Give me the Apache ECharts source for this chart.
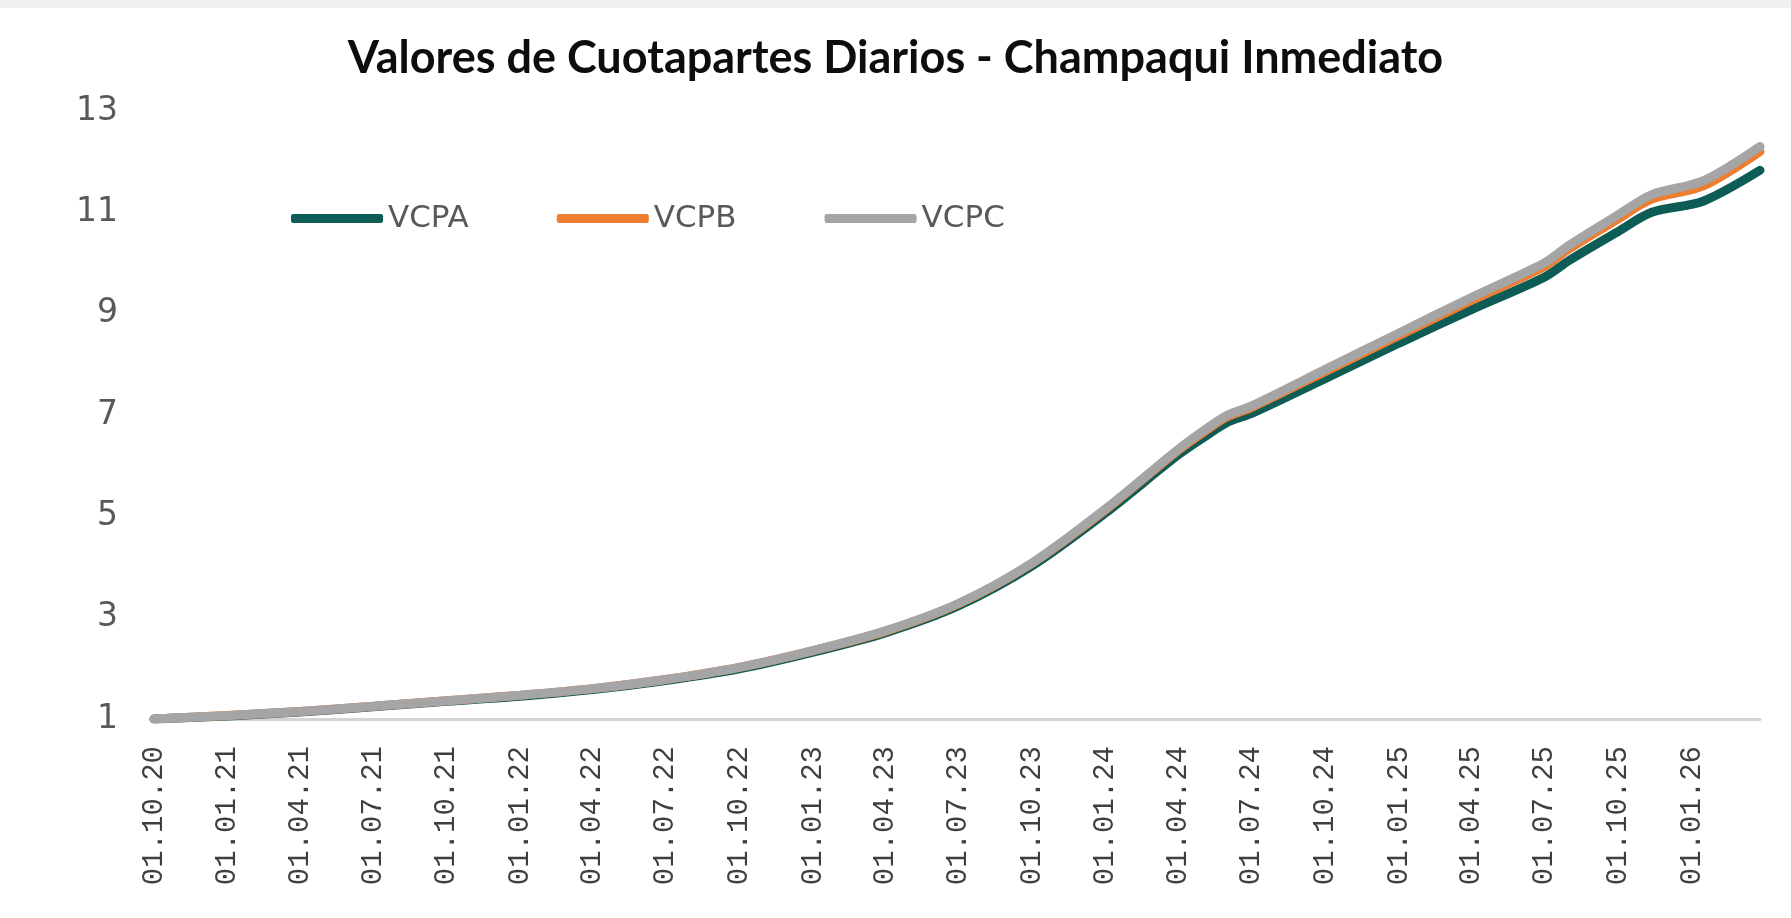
<!DOCTYPE html>
<html>
<head>
<meta charset="utf-8">
<script src="https://cdn.jsdelivr.net/npm/echarts@6/dist/echarts.min.js"></script>
<style>
  html, body { margin: 0; padding: 0; background: #fff; }
  #chart { width: 1791px; height: 918px; }
</style>
</head>
<body>
<div id="chart"></div>
<script>
// fechas de lectura y valores de cuotaparte
const dates = ['2020-10-01', '2021-01-01', '2021-04-01', '2021-07-01', '2021-10-01', '2022-01-01',
  '2022-04-01', '2022-07-01', '2022-10-01', '2023-01-01', '2023-04-01', '2023-07-01', '2023-10-01',
  '2024-01-01', '2024-04-01', '2024-05-10', '2024-06-01', '2024-07-01', '2024-10-01', '2025-01-01',
  '2025-04-01', '2025-07-01', '2025-08-01', '2025-10-01', '2025-11-12', '2026-01-15', '2026-03-27']
const vcpa = [1.00, 1.06, 1.14, 1.24, 1.35, 1.45, 1.58, 1.76, 1.99, 2.32, 2.70, 3.23, 4.02,
  5.07, 6.22, 6.64, 6.86, 7.03, 7.72, 8.42, 9.08, 9.72, 10.05, 10.62, 11.00, 11.22, 11.83]
const vcpb = [1.00, 1.07, 1.15, 1.25, 1.36, 1.47, 1.60, 1.78, 2.02, 2.35, 2.73, 3.27, 4.07,
  5.13, 6.31, 6.75, 6.97, 7.15, 7.86, 8.57, 9.26, 9.93, 10.28, 10.87, 11.26, 11.52, 12.20]
const vcpc = [1.00, 1.07, 1.15, 1.25, 1.36, 1.47, 1.60, 1.78, 2.02, 2.35, 2.74, 3.28, 4.08,
  5.15, 6.33, 6.78, 7.00, 7.18, 7.90, 8.62, 9.32, 10.00, 10.35, 10.95, 11.35, 11.62, 12.30]

// etiquetas del eje x (inicio de cada trimestre)
const quarterLabels = ['01.10.20', '01.01.21', '01.04.21', '01.07.21', '01.10.21', '01.01.22',
  '01.04.22', '01.07.22', '01.10.22', '01.01.23', '01.04.23', '01.07.23', '01.10.23', '01.01.24',
  '01.04.24', '01.07.24', '01.10.24', '01.01.25', '01.04.25', '01.07.25', '01.10.25', '01.01.26']

const seriesNames = ['VCPA', 'VCPB', 'VCPC']
const colors = ['#0d5c55', '#ed7d31', '#a5a5a5']

// el eje x es de valores: dias desde el 01.10.20
const DAY = 24 * 3600 * 1000
const t0 = Date.UTC(2020, 9, 1)
const toDay = (s) => {
  const [y, m, d] = s.split('-').map(Number)
  return Math.round((Date.UTC(y, m - 1, d) - t0) / DAY)
}
const labelToDay = (s) => {
  const [d, m, y] = s.split('.').map(Number)
  return Math.round((Date.UTC(2000 + y, m - 1, d) - t0) / DAY)
}
const pad = (n) => (n < 10 ? '0' : '') + n
const fmt = (v) => {
  const d = new Date(t0 + v * DAY)
  return pad(d.getUTCDate()) + '.' + pad(d.getUTCMonth() + 1) + '.' + String(d.getUTCFullYear()).slice(2)
}

const tickValues = quarterLabels.map(labelToDay)
const pairs = (vals) => dates.map((d, i) => [toDay(d), vals[i]])

const chart = echarts.init(document.getElementById('chart'))

const option = {
  backgroundColor: '#ffffff',
  animation: false,
  graphic: [{
    type: 'rect',
    shape: { x: 0, y: 0, width: 1791, height: 8 },
    style: { fill: '#eef1f0' },
    silent: true
  }],
  title: {
    text: 'Valores de Cuotapartes Diarios - Champaqui Inmediato',
    left: 'center',
    top: 31,
    textStyle: {
      fontFamily: 'Lato',
      fontWeight: 'bold',
      fontSize: 45,
      color: '#0d0d0d'
    }
  },
  legend: {
    data: seriesNames,
    left: 286,
    top: 198,
    icon: 'roundRect',
    itemWidth: 92,
    itemHeight: 9,
    itemGap: 88,
    textStyle: {
      fontFamily: 'DejaVu Sans',
      fontSize: 31,
      color: '#595959'
    }
  },
  grid: {
    left: 154,
    right: 31,
    top: 111,
    bottom: 199
  },
  xAxis: {
    type: 'value',
    min: toDay(dates[0]),
    max: toDay(dates[dates.length - 1]),
    axisLine: {
      show: true,
      lineStyle: { color: '#d4d4d4', width: 3 }
    },
    axisTick: { show: false },
    splitLine: { show: false },
    axisLabel: {
      customValues: tickValues,
      formatter: (v) => fmt(v),
      rotate: 90,
      margin: 27,
      fontFamily: 'Liberation Mono',
      fontSize: 29,
      color: '#3f3f3f'
    }
  },
  yAxis: {
    type: 'value',
    min: 1,
    max: 13,
    interval: 2,
    axisLine: { show: false },
    axisTick: { show: false },
    splitLine: { show: false },
    axisLabel: {
      margin: 36,
      fontFamily: 'DejaVu Sans',
      fontSize: 33,
      color: '#595959'
    }
  },
  series: [
    { name: 'VCPA', data: pairs(vcpa) },
    { name: 'VCPB', data: pairs(vcpb) },
    { name: 'VCPC', data: pairs(vcpc) }
  ].map((s, i) => ({
    name: s.name,
    type: 'line',
    data: s.data,
    smooth: 0.3,
    showSymbol: false,
    color: colors[i],
    lineStyle: { width: 9, color: colors[i], cap: 'round' },
    z: 2 + i
  }))
}

chart.setOption(option)
</script>
</body>
</html>
